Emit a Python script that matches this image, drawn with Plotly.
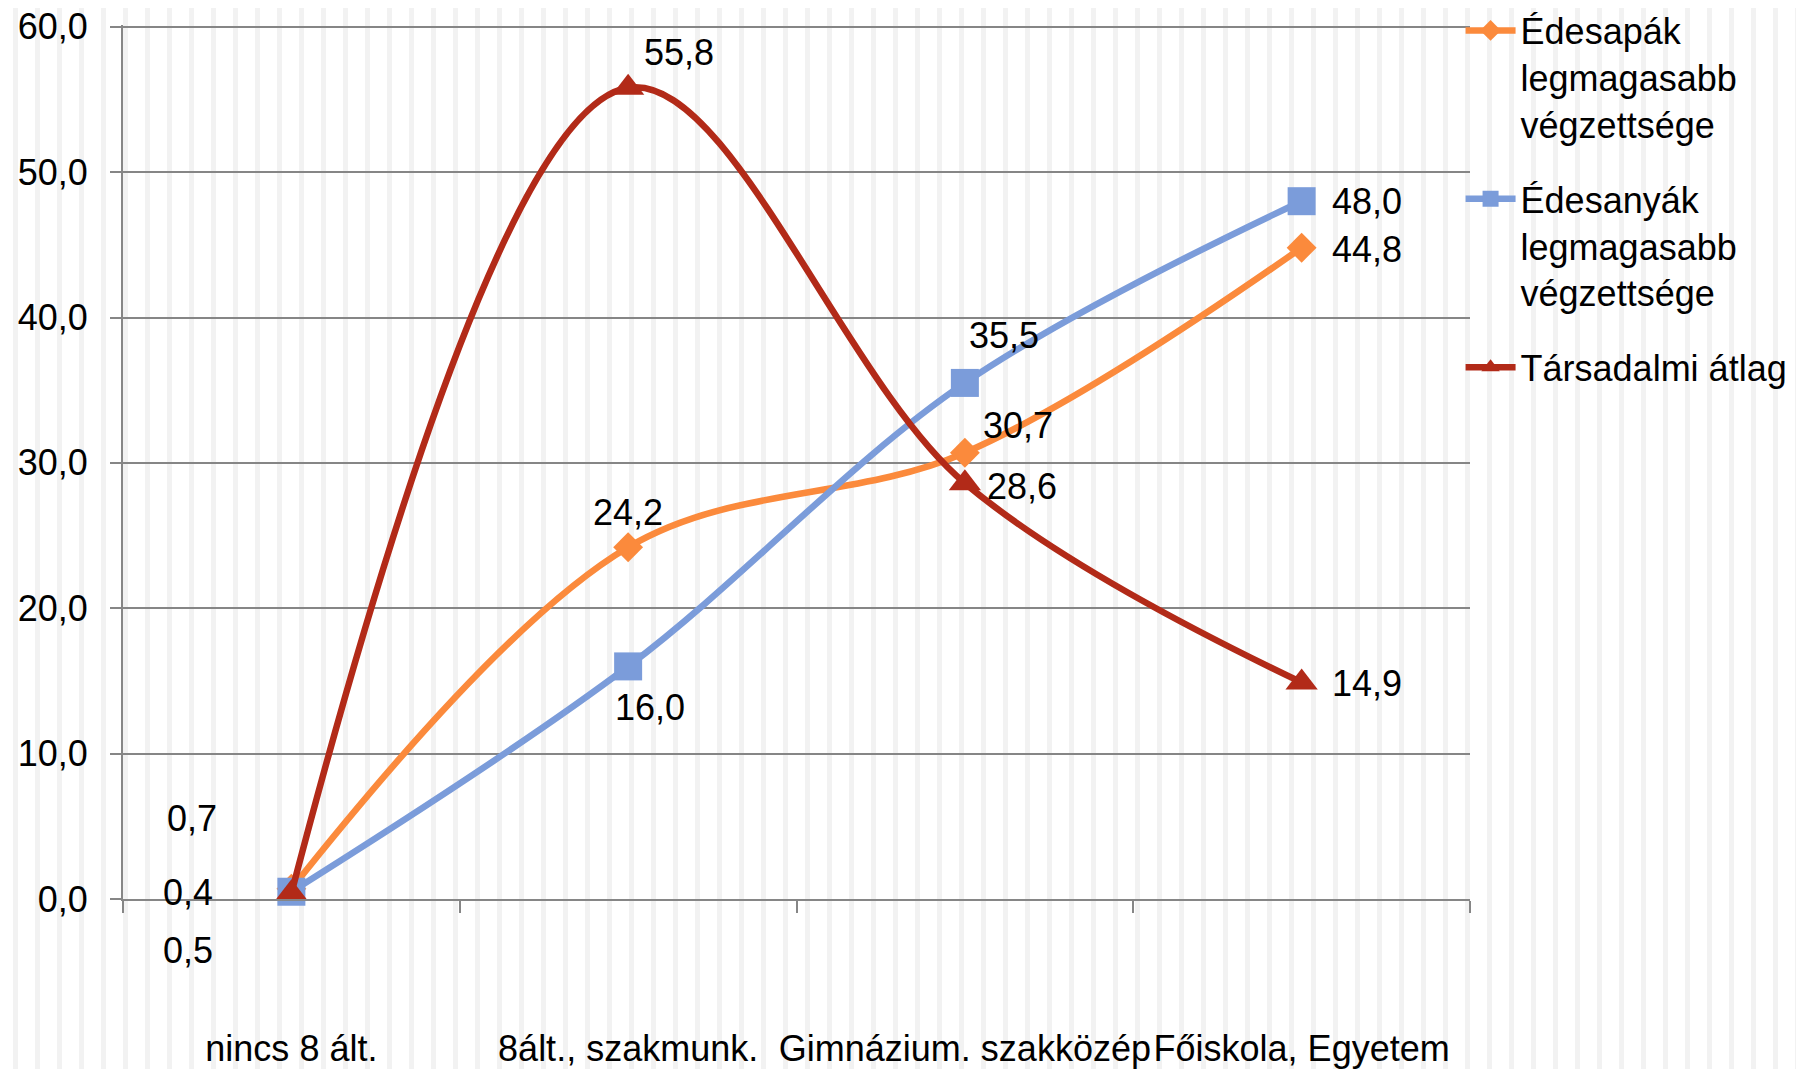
import plotly.graph_objects as go

categories = ["nincs 8 ált.", "8ált., szakmunk.", "Gimnázium. szakközép", "Főiskola, Egyetem"]
series_names = ["Édesapák<br>legmagasabb<br>végzettsége",
                "Édesanyák<br>legmagasabb<br>végzettsége",
                "Társadalmi átlag"]
fathers = [0.7, 24.2, 30.7, 44.8]
mothers = [0.5, 16.0, 35.5, 48.0]
society = [0.4, 55.8, 28.6, 14.9]
y_ticks = [0, 10, 20, 30, 40, 50, 60]

# styling (page body has an 8px margin, compensated here)
W, H = 1804, 1069
L, R, T, B = 115, 342, 17, 178
FONT = "Liberation Sans, Arial, sans-serif"
colors = ["#FB8A3C", "#7B9CDA", "#B22A18"]
symbols = ["diamond", "square", "triangle-up"]
msizes = [23, 28, 28]
# label offsets (pixels) per point: (xshift, yshift)
label_offsets = [
    [(-99, 70), (0, 35), (53, 27), (65, -2)],
    [(-103, -59), (22, -41), (39, 47), (65, 0)],
    [(-103, 1), (51, 35), (57, -3), (65, -1)],
]

fig = go.Figure()
all_series = [fathers, mothers, society]
for i, vals in enumerate(all_series):
    fig.add_trace(go.Scatter(
        x=categories, y=vals, name=series_names[i], mode="lines+markers",
        line=dict(color=colors[i], width=6.5, shape="spline", smoothing=1.0),
        marker=dict(symbol=symbols[i], size=msizes[i], color=colors[i]),
        cliponaxis=False, legendgroup=str(i),
    ))

annotations = []
for i, vals in enumerate(all_series):
    for j, v in enumerate(vals):
        dx, dy = label_offsets[i][j]
        annotations.append(dict(
            x=categories[j], y=v, xref="x", yref="y",
            text=f"{v:.1f}".replace(".", ","), showarrow=False,
            xshift=dx, yshift=dy, font=dict(size=36, color="black", family=FONT),
        ))

# background vertical stripe pattern across the whole figure
pw = W - L - R
ph = H - T - B
path = ""
px = 5
while px < W:
    x0 = (px - L) / pw
    x1 = (px + 5 - L) / pw
    path += f"M{x0:.5f},{-B/ph:.5f}H{x1:.5f}V{1+T/ph:.5f}H{x0:.5f}Z"
    px += 22
shapes = [dict(type="path", xref="paper", yref="paper", path=path,
               fillcolor="#F2F2F2", line=dict(width=0), layer="below")]

fig.update_layout(
    width=W, height=H,
    margin=dict(l=L, r=R, t=T, b=B, autoexpand=False),
    paper_bgcolor="white", plot_bgcolor="rgba(0,0,0,0)",
    separators=", ",
    font=dict(family=FONT, size=36, color="black"),
    showlegend=True,
    legend=dict(x=0.993, y=1.028, xanchor="left", yanchor="top",
                valign="top", itemwidth=50, tracegroupgap=25,
                font=dict(size=36, family=FONT, color="black"),
                bgcolor="rgba(0,0,0,0)"),
    annotations=annotations,
    shapes=shapes,
)
fig.update_xaxes(
    type="category", range=[-0.5, 3.5], showgrid=False, automargin=False,
    showline=True, linecolor="#868686", linewidth=2,
    ticks="outside", tickson="boundaries", ticklen=12, tickcolor="#868686", tickwidth=2,
    tickangle=0, ticklabelstandoff=117, ticklabeloverflow="allow",
    tickfont=dict(size=36, family=FONT, color="black"),
)
fig.update_yaxes(
    range=[0, 60.12], tickvals=y_ticks, tickformat=".1f", automargin=False,
    showgrid=True, gridcolor="#868686", gridwidth=1.5,
    showline=True, linecolor="#868686", linewidth=2, zeroline=False,
    ticks="outside", ticklen=11, tickcolor="#868686", tickwidth=2,
    ticklabelstandoff=15, ticklabeloverflow="allow",
    tickfont=dict(size=36, family=FONT, color="black"),
)

fig.write_html("out.html")
